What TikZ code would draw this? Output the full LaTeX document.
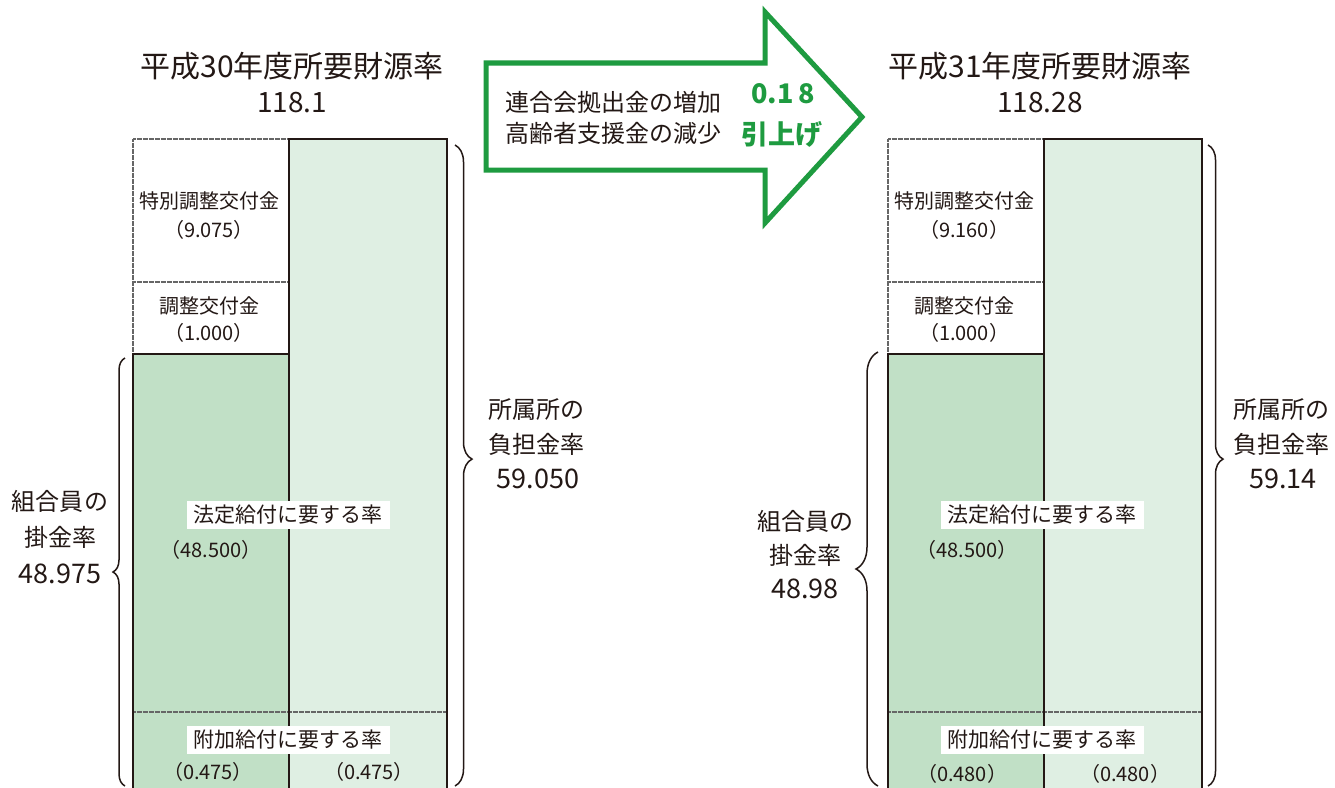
\documentclass[tikz,border=0pt]{standalone}
\usepackage{fontspec}
\setmainfont{Noto Sans CJK JP}
\usetikzlibrary{decorations.pathreplacing}
\definecolor{darkfill}{HTML}{C1E0C6}
\definecolor{lightfill}{HTML}{DFEFE3}
\definecolor{argreen}{HTML}{1E9B40}
\definecolor{txt}{HTML}{231815}
\begin{document}
\begin{tikzpicture}[x=1bp,y=-1bp,
  box/.style={draw=txt, line width=2.2bp},
  dotln/.style={draw=black!60, line width=1.3bp, dash pattern=on 0.5bp off 0.7bp},
  lbl/.style={text=txt, inner sep=0, font=\fontsize{20bp}{24bp}\selectfont},
  wlbl/.style={text=txt, fill=white, inner xsep=7bp, inner ysep=4bp, font=\fontsize{21bp}{25bp}\selectfont},
  side/.style={text=txt, inner sep=0, font=\fontsize{24bp}{28bp}\selectfont},
  sidenum/.style={text=txt, inner sep=0, font=\fontsize{27bp}{30bp}\selectfont},
  title/.style={text=txt, inner sep=0, font=\fontsize{30bp}{34bp}\selectfont},
  titlenum/.style={text=txt, inner sep=0, font=\fontsize{28bp}{32bp}\selectfont},
  brc/.style={draw=txt, line width=1.5bp, decorate, decoration={brace, amplitude=#1}},
]
\clip (0,0) rectangle (1335,787);
\fill[white] (0,0) rectangle (1335,787);

% ---------- left panel ----------
\fill[darkfill] (133,354) rectangle (289,800);
\fill[lightfill] (289,139) rectangle (447,800);
\draw[dotln] (133,139) -- (289,139);
\draw[dotln] (133,139) -- (133,354);
\draw[dotln] (133,282) -- (289,282);
\draw[dotln] (133,712) -- (447,712);
\draw[box] (133,800) -- (133,354) -- (289,354);
\draw[box] (289,800) -- (289,139) -- (447,139) -- (447,800);

\node[title] (t1) at (292,66) {平成30年度所要財源率};
\node[titlenum] (t1n) at (292,103) {118.1};

\node[lbl] (a1) at (209,201) {特別調整交付金};
\node[lbl] (a1n) at (209,230) {（9.075）};
\node[lbl] (b1) at (209,306) {調整交付金};
\node[lbl] (b1n) at (209,333) {（1.000）};
\node[wlbl] (c1) at (288,515) {法定給付に要する率};
\node[lbl] (c1n) at (211,550) {（48.500）};
\node[wlbl] (d1) at (288,740) {附加給付に要する率};
\node[lbl] (d1l) at (208,772) {（0.475）};
\node[lbl] (d1r) at (369,772) {（0.475）};

\coordinate (lb1top) at (125,358);
\coordinate (lb1bot) at (125,786);
\draw[brc=12bp] (lb1bot) -- (lb1top);
\node[side] (m1a) at (60,501) {組合員の};
\node[side] (m1b) at (60,537) {掛金率};
\node[sidenum] (m1c) at (60,574) {48.975};

\coordinate (rb1top) at (455,145);
\coordinate (rb1bot) at (455,786);
\draw[brc=17bp, decoration={aspect=0.49}] (rb1top) -- (rb1bot);
\node[side] (s1a) at (536,410) {所属所の};
\node[side] (s1b) at (536,444) {負担金率};
\node[sidenum] (s1c) at (538,479) {59.050};

% ---------- arrow ----------
\draw[argreen, fill=white, line width=5bp, line join=miter]
  (486,63) -- (765,63) -- (765,12) -- (862,117) -- (765,223) -- (765,170) -- (486,170) -- cycle;
\node[side, text=txt] (ar1) at (613,102) {連合会拠出金の増加};
\node[side, text=txt] (ar2) at (613,133) {高齢者支援金の減少};
\node[inner sep=0, text=argreen, font=\fontsize{27bp}{30bp}\selectfont\bfseries] (ar3) at (783,94) {0.1\,8};
\node[inner sep=0, text=argreen, font=\fontsize{27bp}{30bp}\selectfont\bfseries] (ar4) at (782,134) {引上げ};

% ---------- right panel ----------
\begin{scope}[xshift=755bp]
\fill[darkfill] (133,354) rectangle (289,800);
\fill[lightfill] (289,139) rectangle (447,800);
\draw[dotln] (133,139) -- (289,139);
\draw[dotln] (133,139) -- (133,354);
\draw[dotln] (133,282) -- (289,282);
\draw[dotln] (133,712) -- (447,712);
\draw[box] (133,800) -- (133,354) -- (289,354);
\draw[box] (289,800) -- (289,139) -- (447,139) -- (447,800);

\node[title] (t2) at (285,66) {平成31年度所要財源率};
\node[titlenum] (t2n) at (285,103) {118.28};

\node[lbl] (a2) at (209,201) {特別調整交付金};
\node[lbl] (a2n) at (209,230) {（9.160）};
\node[lbl] (b2) at (209,306) {調整交付金};
\node[lbl] (b2n) at (209,333) {（1.000）};
\node[wlbl] (c2) at (287,515) {法定給付に要する率};
\node[lbl] (c2n) at (212,550) {（48.500）};
\node[wlbl] (d2) at (287,740) {附加給付に要する率};
\node[lbl] (d2l) at (207,774) {（0.480）};
\node[lbl] (d2r) at (370,774) {（0.480）};
\end{scope}

\coordinate (lb2top) at (878,352);
\coordinate (lb2bot) at (878,786);
\draw[brc=22bp] (lb2bot) -- (lb2top);
\node[side] (m2a) at (805,521) {組合員の};
\node[side] (m2b) at (805,555) {掛金率};
\node[sidenum] (m2c) at (805,589) {48.98};

\coordinate (rb2top) at (1208,145);
\coordinate (rb2bot) at (1208,786);
\draw[brc=15bp, decoration={aspect=0.49}] (rb2top) -- (rb2bot);
\node[side] (s2a) at (1281,410) {所属所の};
\node[side] (s2b) at (1281,444) {負担金率};
\node[sidenum] (s2c) at (1283,479) {59.14};
\end{tikzpicture}
\end{document}
